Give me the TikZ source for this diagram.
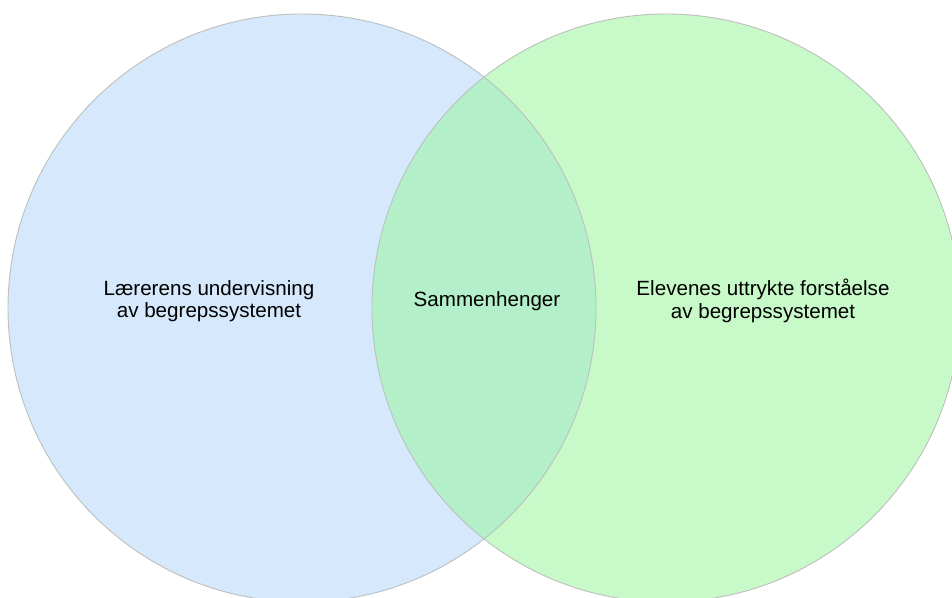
\documentclass[tikz,border=0pt]{standalone}
\usepackage{fontspec}
\setmainfont{Liberation Sans}
\definecolor{setblue}{HTML}{D5E8FC}
\definecolor{setgreen}{HTML}{C8F9C8}
\definecolor{setboth}{HTML}{B3F0CA}
\definecolor{rim}{HTML}{BCC0BC}
\begin{document}
\begin{tikzpicture}[x=1pt,y=-1pt,
  setdisc/.style={circle, minimum size=588pt, inner sep=0pt, outer sep=0pt},
  rimline/.style={draw=rim, line width=0.9pt},
  label/.style={align=center, font=\fontsize{20.6}{22.5}\selectfont, inner sep=0pt}]
  % page frame
  \clip (0,0) rectangle (952,597);
  \fill[white] (0,0) rectangle (952,597);
  % the two sets
  \node[setdisc, fill=setblue] (teach) at (302,308) {};
  \node[setdisc, fill=setgreen] (learn) at (666,308) {};
  % their intersection
  \begin{scope}
    \clip (teach.center) circle[radius=294pt];
    \fill[setboth] (learn.center) circle[radius=294pt];
  \end{scope}
  % outlines on top
  \draw[rimline] (teach.center) circle[radius=294pt];
  \draw[rimline] (learn.center) circle[radius=294pt];
  % labels
  \node[label] (tlabel) at (209,301) {Lærerens undervisning\\av begrepssystemet};
  \node[label] (blabel) at (487,301) {Sammenhenger};
  \node[label] (llabel) at (763,301) {Elevenes uttrykte forståelse\\av begrepssystemet};
\end{tikzpicture}
\end{document}
